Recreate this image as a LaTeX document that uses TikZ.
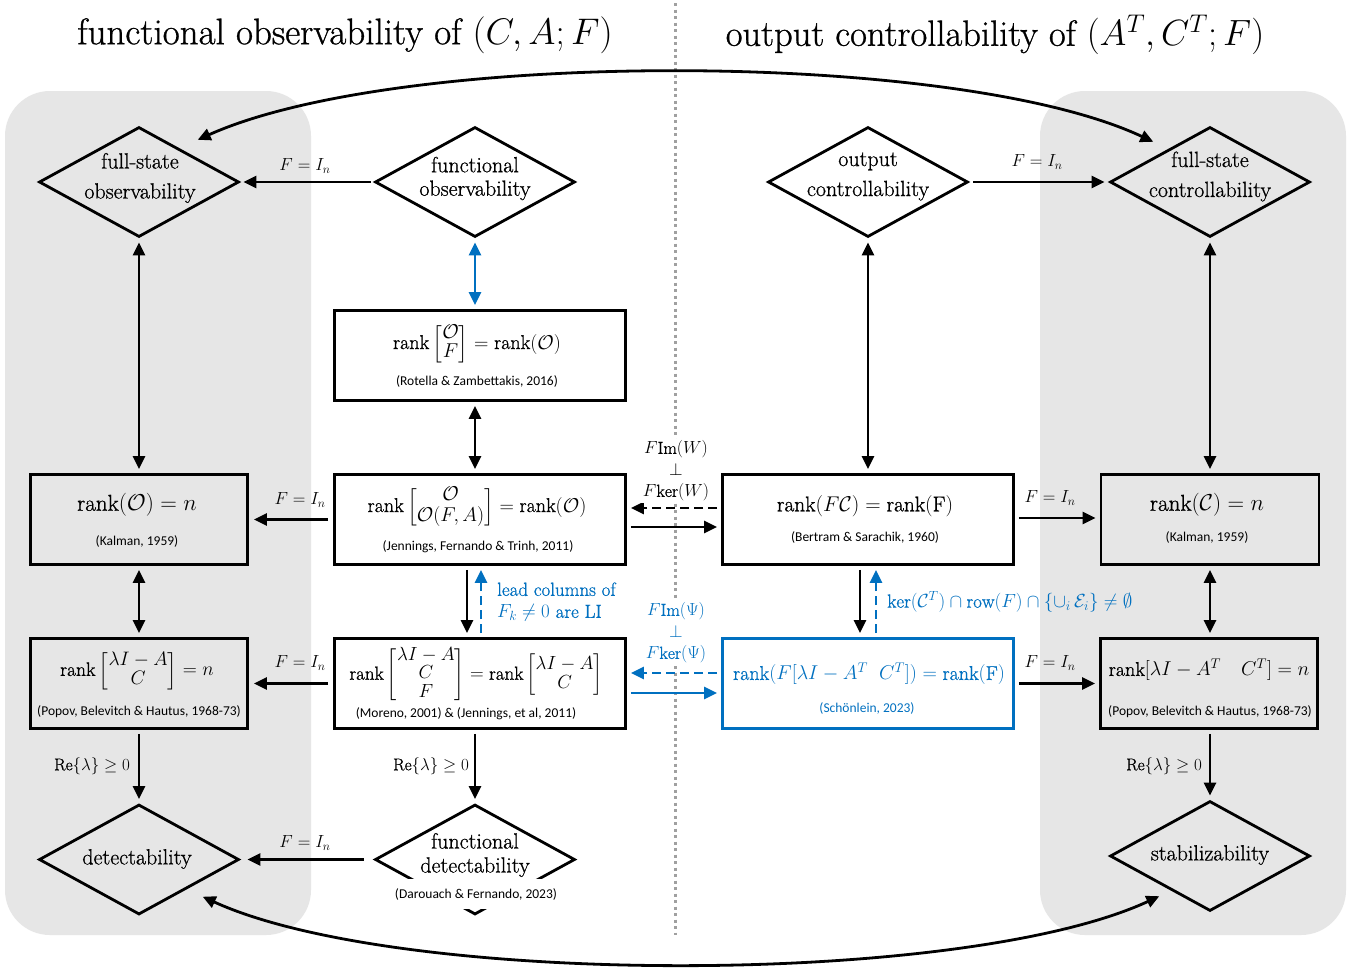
\RequirePackage{fix-cm}
\documentclass[tikz,border=0pt]{standalone}
\usepackage{amsmath}
\usepackage{fontspec}
\setmainfont{Latin Modern Roman}[FakeBold=0.8]
\newfontfamily\calib{Carlito}
\usetikzlibrary{arrows.meta,shapes.geometric}
\definecolor{myblue}{RGB}{0,112,192}
\definecolor{panelgray}{RGB}{230,230,230}
\definecolor{dotgray}{RGB}{160,160,160}
\tikzset{
  lw/.style={line width=2.8pt},
  arr/.style={lw,-{Triangle[length=13pt,width=12pt]}},
  dbl/.style={lw,{Triangle[length=13pt,width=12pt]}-{Triangle[length=13pt,width=12pt]}},
  rbox/.style={draw,lw,minimum width=#1,minimum height=90pt,inner sep=0pt},
  dia/.style={draw,diamond,lw,minimum width=200pt,minimum height=110pt,inner sep=0pt},
  mtext/.style={font=\fontsize{20}{24}\selectfont,inner sep=0pt},
  cite/.style={font=\calib\fontsize{13.5}{16}\selectfont,inner sep=0pt},
  lab/.style={font=\fontsize{17.5}{21.5}\selectfont,inner sep=1pt},
  dtext/.style={font=\fontsize{22}{30}\selectfont,align=center,inner sep=0pt},
  ttl/.style={font=\fontsize{37}{44}\selectfont,inner sep=0pt},
  dsh/.style={dash pattern=on 9pt off 5pt},
  sh/.style={shorten <=#1,shorten >=#1},
}
\begin{document}
\begin{tikzpicture}[x=1pt,y=-1pt]
\useasboundingbox (0,0) rectangle (1351,967);
\fill[white] (0,0) rectangle (1351,967);
\fill[panelgray,rounded corners=45pt] (5,91) rectangle (311,935);
\fill[panelgray,rounded corners=45pt] (1040,91) rectangle (1346,935);
\draw[dotgray,line width=3pt,dash pattern=on 3pt off 3.5pt] (675,3) -- (675,935);

% titles
\node[ttl] (tl) at (345,35) {functional observability of $(C,A;F)$};
\node[ttl,font=\fontsize{36.5}{44}\selectfont] (tr) at (995,35) {output controllability of $(A^T,C^T;F)$};

% diamonds
\node[dia] (fsobs) at (139,182) {};
\node[dia] (fobs) at (475,182) {};
\node[dia] (octrl) at (868,182) {};
\node[dia] (fsctrl) at (1210,182) {};
\node[dia] (det) at (139,859.5) {};
\node[dia] (fdet) at (475,859.5) {};
\node[dia] (stab) at (1210,856) {};

\node[dtext] (fsobsT) at (140,178) {full-state\\observability};
\node[dtext,font=\fontsize{22}{23.5}\selectfont] (fobsT) at (475,178.5) {functional\\observability};
\node[dtext] (octrlT) at (868,176.5) {output\\controllability};
\node[dtext] (fsctrlT) at (1210,176.5) {full-state\\controllability};
\node[dtext] (detT) at (137,859) {detectability};
\node[dtext,font=\fontsize{22}{24}\selectfont] (fdetT) at (475,855) {functional\\detectability};
\node[dtext] (stabT) at (1210,855) {stabilizability};
\node[cite,fill=white,inner xsep=5pt,inner ysep=9pt] (fdetC) at (476,894) {(Darouach \& Fernando, 2023)};

% boxes
\node[rbox=291pt] (rot) at (480,355.5) {};
\node[rbox=291pt] (jen) at (480,519.5) {};
\node[rbox=217pt] (kalL) at (139,519.5) {};
\node[rbox=217pt] (pbhL) at (139,683.5) {};
\node[rbox=291pt] (mor) at (480,683.5) {};
\node[rbox=291pt] (bert) at (868,519.5) {};
\node[rbox=218pt] (kalR) at (1210,519.5) {};
\node[rbox=291pt,draw=myblue] (schon) at (868,683.5) {};
\node[rbox=217pt] (pbhR) at (1209,683.5) {};

% box contents
\node[mtext] (rotM) at (477,344) {\renewcommand{\arraystretch}{0.75}$\mathrm{rank}\begin{bmatrix}\mathcal{O}\\ F\end{bmatrix}=\mathrm{rank}(\mathcal{O})$};
\node[cite] (rotC) at (477,381) {(Rotella \& Zambettakis, 2016)};
\node[mtext] (jenM) at (477,507) {\renewcommand{\arraystretch}{0.8}$\mathrm{rank}\begin{bmatrix}\mathcal{O}\\ \mathcal{O}(F,A)\end{bmatrix}=\mathrm{rank}(\mathcal{O})$};
\node[cite] (jenC) at (478,547) {(Jennings, Fernando \& Trinh, 2011)};
\node[mtext,font=\fontsize{23}{27}\selectfont] (kalLM) at (137,505) {$\mathrm{rank}(\mathcal{O})=n$};
\node[cite] (kalLC) at (137,541) {(Kalman, 1959)};
\node[mtext,font=\fontsize{19.5}{23}\selectfont] (pbhLM) at (137,671) {\renewcommand{\arraystretch}{0.8}$\mathrm{rank}\begin{bmatrix}\lambda I-A\\ C\end{bmatrix}=n$};
\node[cite] (pbhLC) at (139,712) {(Popov, Belevitch \& Hautus, 1968-73)};
\node[mtext,font=\fontsize{19}{23}\selectfont] (morM) at (476,675) {\renewcommand{\arraystretch}{0.78}$\mathrm{rank}\begin{bmatrix}\lambda I-A\\ C\\ F\end{bmatrix}=\mathrm{rank}\begin{bmatrix}\lambda I-A\\ C\end{bmatrix}$};
\node[cite] (morC) at (466,714) {(Moreno, 2001) \& (Jennings, et al, 2011)};
\node[mtext,font=\fontsize{21.3}{25}\selectfont] (bertM) at (865,506) {$\mathrm{rank}(F\mathcal{C})=\mathrm{rank(F)}$};
\node[cite] (bertC) at (865,537) {(Bertram \& Sarachik, 1960)};
\node[mtext,font=\fontsize{23}{27}\selectfont] (kalRM) at (1207,505) {$\mathrm{rank}(\mathcal{C})=n$};
\node[cite] (kalRC) at (1207,537) {(Kalman, 1959)};
\node[mtext,text=myblue,font=\fontsize{20}{24}\selectfont] (schonM) at (869,674) {$\mathrm{rank}(F[\lambda I-A^T\;\;C^T])=\mathrm{rank(F)}$};
\node[cite,text=myblue] (schonC) at (867,708) {(Schönlein, 2023)};
\node[mtext] (pbhRM) at (1209,670) {$\mathrm{rank}[\lambda I-A^T\quad C^T]=n$};
\node[cite] (pbhRC) at (1210,712) {(Popov, Belevitch \& Hautus, 1968-73)};

% arrows
\draw[arr,sh=3pt] (fobs.west) -- (fsobs.east);
\draw[arr,sh=4pt] (octrl.east) -- (fsctrl.west);
\draw[dbl,sh=4pt] (fsobs.south) -- (kalL.north);
\draw[dbl,sh=4pt,myblue] (fobs.south) -- (fobs.south |- rot.north);
\draw[dbl,sh=4pt] ([xshift=-5pt]rot.south) -- ([xshift=-5pt]jen.north);
\draw[arr,sh=5pt] (jen.west) -- (kalL.east);
\draw[dbl,sh=4pt] (kalL.south) -- (pbhL.north);
\draw[arr,sh=4pt] ([xshift=-13pt]jen.south) -- ([xshift=-13pt]mor.north);
\draw[arr,sh=4pt,dsh,myblue] ([xshift=1pt]mor.north) -- ([xshift=1pt]jen.south);
\draw[arr,sh=5pt] (mor.west) -- (pbhL.east);
\draw[arr,sh=4pt] (pbhL.south) -- (det.north);
\draw[arr,sh=4pt] (fdet.north |- mor.south) -- (fdet.north);
\draw[arr,shorten <=10pt,shorten >=7pt] (fdet.west) -- (det.east);
\draw[arr,sh=4pt,dsh] ([yshift=11.5pt]bert.west) -- ([yshift=11.5pt]jen.east);
\draw[arr,sh=4pt] ([yshift=-7.5pt]jen.east) -- ([yshift=-7.5pt]bert.west);
\draw[arr,sh=4pt,dsh,myblue] ([yshift=10.5pt]schon.west) -- ([yshift=10.5pt]mor.east);
\draw[arr,sh=4pt,myblue] ([yshift=-9.5pt]mor.east) -- ([yshift=-9.5pt]schon.west);
\draw[dbl,sh=4pt] (octrl.south) -- (bert.north);
\draw[arr,sh=4pt] ([xshift=-8pt]bert.south) -- ([xshift=-8pt]schon.north);
\draw[arr,sh=4pt,dsh,myblue] ([xshift=8pt]schon.north) -- ([xshift=8pt]bert.south);
\draw[arr,sh=4pt] ([yshift=1.5pt]bert.east) -- ([yshift=1.5pt]kalR.west);
\draw[dbl,sh=4pt] (fsctrl.south) -- (kalR.north);
\draw[dbl,sh=4pt] (kalR.south) -- (kalR.south |- pbhR.north);
\draw[arr,sh=4pt] (schon.east) -- (pbhR.west);
\draw[arr,sh=4pt] (stab.north |- pbhR.south) -- (stab.north);

% labels
\node[lab] (l1) at (305,166) {$F=I_n$};
\node[lab] (l2) at (1037,162) {$F=I_n$};
\node[lab] (l3) at (300,500) {$F=I_n$};
\node[lab] (l4) at (300,663) {$F=I_n$};
\node[lab] (l5) at (305,843) {$F=I_n$};
\node[lab] (l6) at (1050,498) {$F=I_n$};
\node[lab] (l7) at (1050,663) {$F=I_n$};
\node[lab,font=\fontsize{17}{21}\selectfont,anchor=east] (r1) at (131,766) {$\mathrm{Re}\{\lambda\}\geq 0$};
\node[lab,font=\fontsize{17}{21}\selectfont,anchor=east] (r2) at (470,766) {$\mathrm{Re}\{\lambda\}\geq 0$};
\node[lab,font=\fontsize{17}{21}\selectfont,anchor=east] (r3) at (1203,766) {$\mathrm{Re}\{\lambda\}\geq 0$};
\node[lab,align=center,fill=white,inner sep=2pt] (wlab) at (676,471) {$F\mathrm{Im}(W)$\\$\perp$\\$F\mathrm{ker}(W)$};
\node[lab,align=center,fill=white,inner sep=2pt,text=myblue] (plab) at (676,633) {$F\mathrm{Im}(\Psi)$\\$\perp$\\$F\mathrm{ker}(\Psi)$};
\node[lab,font=\fontsize{19}{22}\selectfont,align=left,anchor=west,text=myblue] (lead) at (496,602) {lead columns of\\$F_k\neq 0$ are LI};
\node[lab,font=\fontsize{19}{22}\selectfont,anchor=west,text=myblue] (kerl) at (886,602) {$\ker(\mathcal{C}^T)\cap\mathrm{row}(F)\cap\{\cup_i\,\mathcal{E}_i\}\neq\emptyset$};

% big curves
\draw[dbl] ([shift={(8,-14)}]fsobs.north east) .. controls (400,49) and (955,49) .. ([shift={(-6,-12)}]fsctrl.north west);
\draw[dbl] ([shift={(13,9)}]det.south east) .. controls (400,987) and (963,987) .. ([shift={(0,12)}]stab.south west);
\end{tikzpicture}
\end{document}
